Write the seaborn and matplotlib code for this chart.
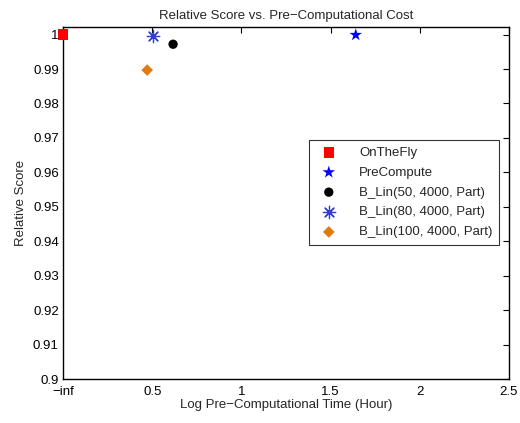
import matplotlib
matplotlib.use("Agg")
import matplotlib.pyplot as plt
import seaborn as sns
import pandas as pd

methods = ["OnTheFly", "PreCompute", "B_Lin(50, 4000, Part)",
           "B_Lin(80, 4000, Part)", "B_Lin(100, 4000, Part)"]
log_time = [0.0, 1.641, 0.617, 0.506, 0.472]
rel_score = [1.0, 0.9999, 0.9972, 0.9996, 0.9897]
x_ticks = [0, 0.5, 1, 1.5, 2, 2.5]
x_tick_labels = ["\u2212inf", "0.5", "1", "1.5", "2", "2.5"]
y_ticks = [0.90, 0.91, 0.92, 0.93, 0.94, 0.95, 0.96, 0.97, 0.98, 0.99, 1.0]
y_tick_labels = ["0.9", "0.91", "0.92", "0.93", "0.94", "0.95", "0.96",
                 "0.97", "0.98", "0.99", "1"]

colors = {"OnTheFly": "#ff0000", "PreCompute": "#0000ff",
          "B_Lin(50, 4000, Part)": "#000000",
          "B_Lin(80, 4000, Part)": "#3040c8",
          "B_Lin(100, 4000, Part)": "#e07b10"}
markers = {"OnTheFly": "s", "PreCompute": "*",
           "B_Lin(50, 4000, Part)": "o",
           "B_Lin(80, 4000, Part)": (8, 2, 0),
           "B_Lin(100, 4000, Part)": "D"}
sizes = {"OnTheFly": 55, "PreCompute": 90,
         "B_Lin(50, 4000, Part)": 45,
         "B_Lin(80, 4000, Part)": 80,
         "B_Lin(100, 4000, Part)": 35}

df = pd.DataFrame({"method": methods, "x": log_time, "y": rel_score})

sns.set_style("white")
plt.rcParams["font.family"] = ["Liberation Sans", "DejaVu Sans"]
FS = 9.5

fig = plt.figure(figsize=(5.2, 4.23), dpi=100)
ax = fig.add_axes([63 / 520, 1 - 379 / 423, (509 - 63) / 520, (379 - 27) / 423])

for m in methods:
    sub = df[df["method"] == m]
    mk = markers[m]
    is_ast = mk == (8, 2, 0)
    sns.scatterplot(data=sub, x="x", y="y", ax=ax, marker=mk, s=sizes[m],
                    color=colors[m], edgecolor=colors[m] if is_ast else "none",
                    linewidths=0.9 if is_ast else 0,
                    label=m, clip_on=False, zorder=5)

ax.set_xlim(0, 2.5)
ax.set_ylim(0.9, 1.0022)
ax.set_xticks(x_ticks)
ax.set_xticklabels(x_tick_labels)
ax.set_yticks(y_ticks)
ax.set_yticklabels(y_tick_labels)
ax.tick_params(direction="in", length=4, width=0.8, labelsize=FS,
               top=True, right=True, colors="black")
ax.tick_params(axis="x", pad=5)
ax.tick_params(axis="y", pad=3)
for sp in ax.spines.values():
    sp.set_visible(True)
    sp.set_color("black")
    sp.set_linewidth(1.0)

ax.set_xlabel("Log Pre\u2212Computational Time (Hour)", fontsize=FS, labelpad=1)
ax.set_ylabel("Relative Score", fontsize=FS, labelpad=4)
ax.set_title("Relative Score vs. Pre\u2212Computational Cost", fontsize=FS, pad=6)

leg = ax.legend(loc="upper left", bbox_to_anchor=((309 - 63) / 446, 1 - (140 - 27) / 352),
                fontsize=FS, frameon=True, fancybox=False, edgecolor="black",
                borderpad=0.5, labelspacing=0.58, handletextpad=1.3, borderaxespad=0)
leg.get_frame().set_linewidth(0.8)

fig.savefig("out.png", dpi=100)
